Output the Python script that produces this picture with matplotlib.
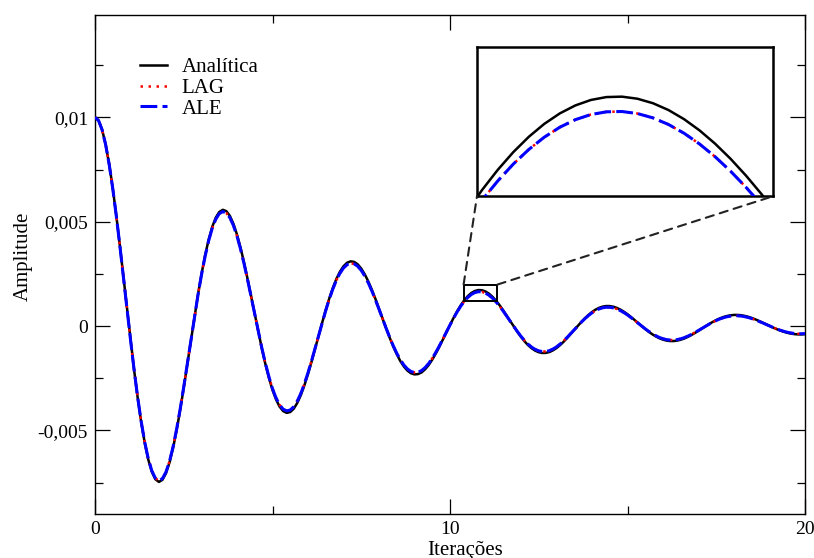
import numpy as np
import matplotlib.pyplot as plt
from matplotlib.patches import Rectangle, ConnectionPatch

plt.rcParams.update({
    "font.family": "serif",
    "font.serif": ["Liberation Serif", "DejaVu Serif"],
    "axes.linewidth": 1.0,
    "xtick.direction": "in",
    "ytick.direction": "in",
    "xtick.top": True,
    "ytick.right": True,
})

# -----------------------------
# Data
# -----------------------------
iteracoes = np.round(np.arange(0, 20.001, 0.1), 1)

analitica = [
    0.0100000, 0.0098494, 0.0094083, 0.0086993, 0.0077521, 0.0066026, 0.0052917,
    0.0038646, 0.0023663, 0.0008459, -0.0006520, -0.0020825, -0.0034049, -0.0045831,
    -0.0055864, -0.0063903, -0.0069771, -0.0073359, -0.0074635, -0.0073633, -0.0070457,
    -0.0065269, -0.0058292, -0.0049788, -0.0040092, -0.0029449, -0.0018290, -0.0006938,
    0.0004262, 0.0014973, 0.0024895, 0.0033755, 0.0041318, 0.0047407, 0.0051881,
    0.0054653, 0.0055700, 0.0055044, 0.0052760, 0.0048967, 0.0043826, 0.0037538,
    0.0030325, 0.0022431, 0.0014118, 0.0005646, -0.0002726, -0.0010748, -0.0018210,
    -0.0024854, -0.0030616, -0.0035165, -0.0038573, -0.0040712, -0.0041569, -0.0041145,
    -0.0039548, -0.0036733, -0.0032984, -0.0028296, -0.0022917, -0.0017078, -0.0010890,
    -0.0004562, 0.0001694, 0.0007701, 0.0013301, 0.0018294, 0.0022617, 0.0026080,
    0.0028666, 0.0030324, 0.0031014, 0.0030752, 0.0029577, 0.0027552, 0.0024767,
    0.0021328, 0.0017361, 0.0012996, 0.0008386, 0.0003666, -0.0001011, -0.0005508,
    -0.0009704, -0.0013461, -0.0016743, -0.0019339, -0.0021312, -0.0022584, -0.0023137,
    -0.0022981, -0.0022179, -0.0020663, -0.0018640, -0.0016071, -0.0013113, -0.0009886,
    -0.0006455, -0.0002931, 0.0000564, 0.0003931, 0.0007078, 0.0009902, 0.0012344,
    0.0014339, 0.0015841, 0.0016819, 0.0017262, 0.0017173, 0.0016574, 0.0015495,
    0.0013988, 0.0012108, 0.0009927, 0.0007517, 0.0004960, 0.0002333, -0.0000279,
    -0.0002799, -0.0005159, -0.0007282, -0.0009151, -0.0010630, -0.0011774, -0.0012523,
    -0.0012877, -0.0012832, -0.0012433, -0.0011619, -0.0010528, -0.0009122, -0.0007499,
    -0.0005713, -0.0003811, -0.0001849, 0.0000102, 0.0001988, 0.0003757, 0.0005352,
    0.0006749, 0.0007879, 0.0008745, 0.0009324, 0.0009606, 0.0009587, 0.0009283,
    0.0008710, 0.0007895, 0.0006869, 0.0005671, 0.0004340, 0.0002924, 0.0001461,
    0.0000002, -0.0001409, -0.0002734, -0.0003934, -0.0004975, -0.0005839, -0.0006497,
    -0.0006942, -0.0007162, -0.0007162, -0.0006949, -0.0006530, -0.0005943, -0.0005174,
    -0.0004284, -0.0003296, -0.0002243, -0.0001150, -0.0000061, 0.0000995, 0.0001988,
    0.0002890, 0.0003683, 0.0004327, 0.0004833, 0.0005167, 0.0005344, 0.0005350,
    0.0005198, 0.0004895, 0.0004455, 0.0003895, 0.0003238, 0.0002503, 0.0001718,
    0.0000904, 0.0000090, -0.0000700, -0.0001444, -0.0002122, -0.0002713, -0.0003206,
    -0.0003590, -0.0003846, -0.0003984, -0.0003996, -0.0003892,
]

lag = [
    0.0100000, 0.0098452, 0.0094002, 0.0086881, 0.0077388, 0.0065884, 0.0052780,
    0.0038530, 0.0023582, 0.0008426, -0.0006492, -0.0020727, -0.0033874, -0.0045575,
    -0.0055529, -0.0063492, -0.0069293, -0.0072825, -0.0074060, -0.0073034, -0.0069854,
    -0.0064682, -0.0057743, -0.0049298, -0.0039681, -0.0029134, -0.0018087, -0.0006858,
    0.0004211, 0.0014787, 0.0024576, 0.0033308, 0.0040754, 0.0046740, 0.0051128,
    0.0053837, 0.0054845, 0.0054175, 0.0051905, 0.0048153, 0.0043079, 0.0036882,
    0.0029782, 0.0022020, 0.0013853, 0.0005538, -0.0002673, -0.0010533, -0.0017838,
    -0.0024336, -0.0029965, -0.0034402, -0.0037720, -0.0039795, -0.0040615, -0.0040183,
    -0.0038607, -0.0035844, -0.0032172, -0.0027587, -0.0022334, -0.0016636, -0.0010604,
    -0.0004440, 0.0001648, 0.0007489, 0.0012929, 0.0017775, 0.0021966, 0.0025318,
    0.0027816, 0.0029412, 0.0030069, 0.0029802, 0.0028651, 0.0026678, 0.0023971,
    0.0020634, 0.0016789, 0.0012562, 0.0008103, 0.0003541, -0.0000976, -0.0005315,
    -0.0009360, -0.0012978, -0.0016136, -0.0018629, -0.0020521, -0.0021737, -0.0022259,
    -0.0022100, -0.0021319, -0.0019854, -0.0017902, -0.0015428, -0.0012583, -0.0009482,
    -0.0006189, -0.0002809, 0.0000540, 0.0003764, 0.0006775, 0.0009473, 0.0011805,
    0.0013706, 0.0015135, 0.0016063, 0.0016479, 0.0016387, 0.0015808, 0.0014773,
    0.0013331, 0.0011534, 0.0009452, 0.0007155, 0.0004719, 0.0002219, -0.0000265,
    -0.0002660, -0.0004900, -0.0006913, -0.0008684, -0.0010083, -0.0011163, -0.0011868,
    -0.0012198, -0.0012150, -0.0011768, -0.0010992, -0.0009956, -0.0008623, -0.0007086,
    -0.0005396, -0.0003598, -0.0001745, 0.0000096, 0.0001874, 0.0003541, 0.0005042,
    0.0006355, 0.0007416, 0.0008227, 0.0008768, 0.0009030, 0.0009008, 0.0008718,
    0.0008177, 0.0007409, 0.0006443, 0.0005317, 0.0004067, 0.0002739, 0.0001368,
    0.0000002, -0.0001318, -0.0002557, -0.0003677, -0.0004648, -0.0005453, -0.0006065,
    -0.0006478, -0.0006680, -0.0006677, -0.0006476, -0.0006083, -0.0005534, -0.0004816,
    -0.0003986, -0.0003065, -0.0002085, -0.0001069, -0.0000057, 0.0000924, 0.0001845,
    0.0002681, 0.0003415, 0.0004010, 0.0004477, 0.0004784, 0.0004946, 0.0004950,
    0.0004807, 0.0004525, 0.0004116, 0.0003597, 0.0002989, 0.0002310, 0.0001585,
    0.0000833, 0.0000083, -0.0000645, -0.0001330, -0.0001953, -0.0002496, -0.0002948,
    -0.0003300, -0.0003534, -0.0003659, -0.0003668, -0.0003571,
]
ale = list(lag)  # ALE and LAG coincide

# finer reading around the zoomed peak
iter_zoom = np.round(np.arange(10.30, 11.401, 0.05), 2)
analitica_zoom = [
    0.00099027, 0.00111760, 0.00123444, 0.00134012, 0.00143393, 0.00151537,
    0.00158410, 0.00163963, 0.00168185, 0.00171083, 0.00172619, 0.00172842,
    0.00171742, 0.00169359, 0.00165741, 0.00160915, 0.00154959, 0.00147924,
    0.00139883, 0.00130909, 0.00121083, 0.00110513, 0.00099268,
]
lag_zoom = [
    0.00094736, 0.00106894, 0.00118045, 0.00128122, 0.00137062, 0.00144815,
    0.00151351, 0.00156622, 0.00160622, 0.00163353, 0.00164786, 0.00164962,
    0.00163878, 0.00161568, 0.00158084, 0.00153447, 0.00147737, 0.00140998,
    0.00133306, 0.00124726, 0.00115340, 0.00105248, 0.00094519,
]
ale_zoom = list(lag_zoom)

y_ticks = [-0.005, 0.0, 0.005, 0.01]
y_tick_labels = ["-0,005", "0", "0,005", "0,01"]
x_ticks = [0, 10, 20]
labels = ["Analítica", "LAG", "ALE"]

zoom_x = (10.383, 11.337)
zoom_y = (0.0012, 0.00199)


def draw_series(a, x, ya, yl, ye):
    la, = a.plot(x, ya, color="black", lw=1.8, zorder=2)
    ll, = a.plot(x, yl, color="red", lw=1.8, linestyle=(0, (1, 2.2)), zorder=3)
    le, = a.plot(x, ye, color="blue", lw=2.2, linestyle=(0, (5.5, 1.7)), zorder=4)
    return la, ll, le


fig = plt.figure(figsize=(8.14, 5.58), dpi=100)
ax = fig.add_axes([95 / 814, 44 / 558, 710 / 814, 499 / 558])

handles = draw_series(ax, iteracoes, analitica, lag, ale)

ax.set_xlim(0, 20)
ax.set_ylim(-0.009, 0.0149)
ax.set_xticks(x_ticks)
ax.set_xticks([5, 15], minor=True)
ax.set_yticks(y_ticks)
ax.set_yticklabels(y_tick_labels)
ax.set_yticks([-0.0075, -0.0025, 0.0025, 0.0075, 0.0125], minor=True)
ax.tick_params(which="major", length=11, width=0.9, labelsize=14, pad=5)
ax.tick_params(which="minor", length=6, width=0.9)

ax.set_xlabel("Iterações", fontsize=15)
ax.xaxis.label.set_va("baseline")
ax.xaxis.set_label_coords(0.521, -0.082)
ax.set_ylabel("Amplitude", fontsize=15)
ax.yaxis.set_label_coords(-0.087, 0.517)

ax.legend(handles, labels, loc="upper left", bbox_to_anchor=(0.0634, 0.915),
          frameon=False, fontsize=15, handlelength=1.3, handletextpad=0.7,
          labelspacing=0.06, borderpad=0, borderaxespad=0)

# zoom box on the main axes
ax.add_patch(Rectangle((zoom_x[0], zoom_y[0]), zoom_x[1] - zoom_x[0],
                       zoom_y[1] - zoom_y[0], fill=False, ec="black", lw=1.4,
                       zorder=5))

axins = ax.inset_axes([10.76, 0.00622, 8.34, 0.00713], transform=ax.transData)
draw_series(axins, iter_zoom, analitica_zoom, lag_zoom, ale_zoom)
axins.set_xlim(*zoom_x)
axins.set_ylim(*zoom_y)
axins.set_xticks([])
axins.set_yticks([])
for s in axins.spines.values():
    s.set_linewidth(1.8)

for xa, xb in [(zoom_x[0], 0), (zoom_x[1], 1)]:
    con = ConnectionPatch(xyA=(xa, zoom_y[1]), coordsA=ax.transData,
                          xyB=(xb, 0), coordsB=axins.transAxes,
                          color="#222222", lw=1.5, linestyle=(0, (4, 3)))
    fig.add_artist(con)

fig.savefig("out.png", dpi=100)
